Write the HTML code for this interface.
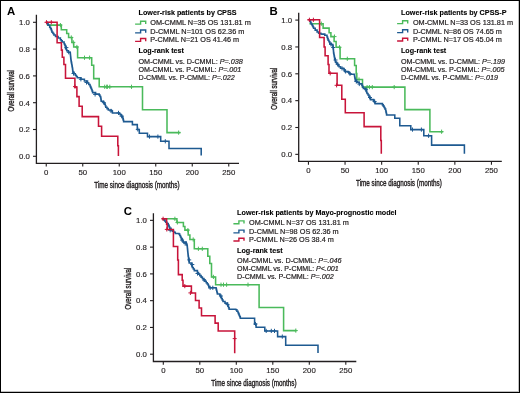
<!DOCTYPE html><html><head><meta charset="utf-8"><style>html,body{margin:0;padding:0;background:#fff;}svg{display:block;will-change:transform;} .tk{font-size:7.8px;fill:#231f20;stroke:#231f20;stroke-width:.15px} .tt{font-size:9px;fill:#231f20;stroke:#231f20;stroke-width:.4px} .lt{font-size:11.4px;font-weight:bold;fill:#000} .lb{font-size:7.2px;font-weight:bold;fill:#000;stroke:#000;stroke-width:.1px} .lr{font-size:7.2px;fill:#231f20;stroke:#231f20;stroke-width:.2px}</style></head><body>
<svg width="520" height="393" viewBox="0 0 520 393" font-family='"Liberation Sans", sans-serif'>
<rect x="0" y="0" width="520" height="393" fill="#fff"/>
<path d="M46.9,25.1 H61.3 V29.7 H66.7 V33.5 H68.6 V37.5 H71.9 V42.4 H73.7 V47 H77.6 V57.8 H91.7 V65.2 H93.7 V78.6 H99.2 V86.8 H142.5 V109.8 H167 V132.6 H180.4" fill="none" stroke="#4aba5b" stroke-width="1.55" stroke-linejoin="miter"/>
<path d="M60.4,23V27.2M58.4,25.1H62.4" stroke="#4aba5b" stroke-width="1"/>
<path d="M71.3,35.4V39.6M69.3,37.5H73.3" stroke="#4aba5b" stroke-width="1"/>
<path d="M73.3,40.3V44.5M71.3,42.4H75.3" stroke="#4aba5b" stroke-width="1"/>
<path d="M76.9,44.9V49.1M74.9,47H78.9" stroke="#4aba5b" stroke-width="1"/>
<path d="M84.5,55.6V59.8M82.5,57.7H86.5" stroke="#4aba5b" stroke-width="1"/>
<path d="M89.6,55.6V59.8M87.6,57.7H91.6" stroke="#4aba5b" stroke-width="1"/>
<path d="M104.7,84.7V88.9M102.7,86.8H106.7" stroke="#4aba5b" stroke-width="1"/>
<path d="M106.7,84.7V88.9M104.7,86.8H108.7" stroke="#4aba5b" stroke-width="1"/>
<path d="M107.4,84.7V88.9M105.4,86.8H109.4" stroke="#4aba5b" stroke-width="1"/>
<path d="M109.8,84.7V88.9M107.8,86.8H111.8" stroke="#4aba5b" stroke-width="1"/>
<path d="M131.5,84.7V88.9M129.5,86.8H133.5" stroke="#4aba5b" stroke-width="1"/>
<path d="M178.6,130.5V134.7M176.6,132.6H180.6" stroke="#4aba5b" stroke-width="1"/>
<path d="M46.3,22.3 H47.1 V22.7 H47.65 V24 H48.2 V25.3 H49.7 V27.3 H50.5 V28.6 H51.3 V29.9 H51.65 V31.05 H52 V32.2 H52.95 V33.55 H53.9 V34.9 H55.5 V36.4 H58.1 V37.9 H60.4 V39.8 H61.3 V40.85 H62.2 V41.9 H64.1 V43.8 H64.7 V44.95 H65.3 V46.1 H65.45 V47.25 H65.6 V48.4 H66.2 V49.55 H66.8 V50.7 H68.3 V52.2 H70.2 V53 H70.33 V54.27 H70.47 V55.53 H70.6 V56.8 H70.73 V58.07 H70.87 V59.33 H71 V60.6 H71.23 V61.87 H71.47 V63.13 H71.7 V64.4 H71.97 V65.93 H72.23 V67.47 H72.5 V69 H72.7 V70.6 H72.9 V72.2 H74.1 V73.75 H75.3 V75.3 H76.3 V76.55 H77.3 V77.8 H80.9 V79.3 H84.4 V80.9 H87.5 V82.9 H88.75 V84.4 H90 V85.9 H90.5 V87.1 H91 V88.3 H91.5 V89.5 H92.05 V91.05 H92.6 V92.6 H95.6 V94.1 H99.2 V95.1 H99.95 V96.4 H100.7 V97.7 H100.87 V98.87 H101.03 V100.03 H101.2 V101.2 H103.3 V102.2 H104.05 V103.25 H104.8 V104.3 H105.3 V105.8 H105.8 V107.3 H107.05 V108.6 H108.3 V109.9 H111.4 V110.9 H112.4 V112.9 H118 V112.9 H119.3 V113.95 H120.6 V115 H121.6 V116.25 H122.6 V117.5 H122.93 V118.87 H123.27 V120.23 H123.6 V121.6 H132.4 V124.6 H137.3 V129.4 H139.3 V133.3 H147.5 V136.6 H160.7 V141.3 H169 V148.5 H201.2 V155.6" fill="none" stroke="#1e5a91" stroke-width="1.55" stroke-linejoin="miter"/>
<path d="M66.4,45.5V49.7M64.4,47.6H68.4" stroke="#1e5a91" stroke-width="1"/>
<path d="M68.7,50.1V54.3M66.7,52.2H70.7" stroke="#1e5a91" stroke-width="1"/>
<path d="M73.5,71.4V75.6M71.5,73.5H75.5" stroke="#1e5a91" stroke-width="1"/>
<path d="M80.9,77.2V81.4M78.9,79.3H82.9" stroke="#1e5a91" stroke-width="1"/>
<path d="M86.5,80.4V84.6M84.5,82.5H88.5" stroke="#1e5a91" stroke-width="1"/>
<path d="M95.1,92.3V96.5M93.1,94.4H97.1" stroke="#1e5a91" stroke-width="1"/>
<path d="M103.8,100.6V104.8M101.8,102.7H105.8" stroke="#1e5a91" stroke-width="1"/>
<path d="M111,108.8V113M109,110.9H113" stroke="#1e5a91" stroke-width="1"/>
<path d="M118.5,110.8V115M116.5,112.9H120.5" stroke="#1e5a91" stroke-width="1"/>
<path d="M121.6,114.1V118.3M119.6,116.2H123.6" stroke="#1e5a91" stroke-width="1"/>
<path d="M137.8,127.3V131.5M135.8,129.4H139.8" stroke="#1e5a91" stroke-width="1"/>
<path d="M149.5,134.5V138.7M147.5,136.6H151.5" stroke="#1e5a91" stroke-width="1"/>
<path d="M157.9,134.5V138.7M155.9,136.6H159.9" stroke="#1e5a91" stroke-width="1"/>
<path d="M165.3,139.2V143.4M163.3,141.3H167.3" stroke="#1e5a91" stroke-width="1"/>
<path d="M45.6,22.3 H57.1 V42.8 H61.4 V50.1 H62.3 V57.2 H63.9 V64.4 H65.5 V78.3 H74.9 V87.1 H76.9 V96.6 H79.1 V106.3 H82.2 V116.6 H98.5 V126.3 H101.6 V136.3 H117.8 V145.7 H118.4 V156" fill="none" stroke="#c8143a" stroke-width="1.55" stroke-linejoin="miter"/>
<path d="M46.5,20.2V24.4M44.5,22.3H48.5" stroke="#c8143a" stroke-width="1"/>
<path d="M51.3,20.2V24.4M49.3,22.3H53.3" stroke="#c8143a" stroke-width="1"/>
<path d="M75,84.5V88.7M73,86.6H77" stroke="#c8143a" stroke-width="1"/>
<path d="M36.4,14.8V163.3H239" fill="none" stroke="#231f20" stroke-width="1.3"/>
<path d="M33,156.3H36.4" stroke="#231f20" stroke-width="1.1"/>
<text x="29.9" y="159.1" text-anchor="end" class="tk">0.0</text>
<path d="M33,129.5H36.4" stroke="#231f20" stroke-width="1.1"/>
<text x="29.9" y="132.3" text-anchor="end" class="tk">0.2</text>
<path d="M33,102.7H36.4" stroke="#231f20" stroke-width="1.1"/>
<text x="29.9" y="105.5" text-anchor="end" class="tk">0.4</text>
<path d="M33,75.9H36.4" stroke="#231f20" stroke-width="1.1"/>
<text x="29.9" y="78.7" text-anchor="end" class="tk">0.6</text>
<path d="M33,49.1H36.4" stroke="#231f20" stroke-width="1.1"/>
<text x="29.9" y="51.9" text-anchor="end" class="tk">0.8</text>
<path d="M33,22.3H36.4" stroke="#231f20" stroke-width="1.1"/>
<text x="29.9" y="25.1" text-anchor="end" class="tk">1.0</text>
<path d="M46.25,163.3V166.6" stroke="#231f20" stroke-width="1.1"/>
<text x="46.25" y="175.2" text-anchor="middle" class="tk">0</text>
<path d="M82.75,163.3V166.6" stroke="#231f20" stroke-width="1.1"/>
<text x="82.75" y="175.2" text-anchor="middle" class="tk">50</text>
<path d="M119.25,163.3V166.6" stroke="#231f20" stroke-width="1.1"/>
<text x="119.25" y="175.2" text-anchor="middle" class="tk">100</text>
<path d="M155.75,163.3V166.6" stroke="#231f20" stroke-width="1.1"/>
<text x="155.75" y="175.2" text-anchor="middle" class="tk">150</text>
<path d="M192.25,163.3V166.6" stroke="#231f20" stroke-width="1.1"/>
<text x="192.25" y="175.2" text-anchor="middle" class="tk">200</text>
<path d="M228.75,163.3V166.6" stroke="#231f20" stroke-width="1.1"/>
<text x="228.75" y="175.2" text-anchor="middle" class="tk">250</text>
<text x="94.3" y="187.7" class="tt" textLength="85.3" lengthAdjust="spacingAndGlyphs">Time since diagnosis (months)</text>
<text transform="translate(14.2,90.75) rotate(-90)" x="0" y="0" text-anchor="middle" class="tt" textLength="41.3" lengthAdjust="spacingAndGlyphs">Overall survival</text>
<text x="6.9" y="14.8" class="lt">A</text>
<text x="138.5" y="15" class="lb" textLength="98" lengthAdjust="spacingAndGlyphs">Lower-risk patients by CPSS</text>
<path d="M135.1,24.1H140.6V21.3H145.7V23.9" fill="none" stroke="#4aba5b" stroke-width="1.4"/>
<text x="150.25" y="25" class="lr" textLength="100.6" lengthAdjust="spacingAndGlyphs">OM-CMML N=35 OS 131.81 m</text>
<path d="M135.1,32.85H140.6V30.05H145.7V32.65" fill="none" stroke="#1e5a91" stroke-width="1.4"/>
<text x="150.25" y="33.75" class="lr" textLength="94.15" lengthAdjust="spacingAndGlyphs">D-CMML N=101 OS 62.36 m</text>
<path d="M135.1,41.35H140.6V38.55H145.7V41.15" fill="none" stroke="#c8143a" stroke-width="1.4"/>
<text x="150.25" y="42.25" class="lr" textLength="88.85" lengthAdjust="spacingAndGlyphs">P-CMML N=21 OS 41.46 m</text>
<text x="138.5" y="52.9" class="lb" textLength="45.5" lengthAdjust="spacingAndGlyphs">Log-rank test</text>
<text x="138.5" y="63.75" class="lr" textLength="104.25" lengthAdjust="spacingAndGlyphs">OM-CMML vs. D-CMML: <tspan font-style="italic">P=.038</tspan></text>
<text x="138.5" y="71.6" class="lr" textLength="102.75" lengthAdjust="spacingAndGlyphs">OM-CMML vs. P-CMML: <tspan font-style="italic">P=.001</tspan></text>
<text x="138.5" y="79.75" class="lr" textLength="96.25" lengthAdjust="spacingAndGlyphs">D-CMML vs. P-CMML: <tspan font-style="italic">P=.022</tspan></text>
<path d="M309.4,23.7 H323.1 V28.1 H329.1 V32.7 H330.9 V36.6 H334.1 V41.4 H336.1 V47.3 H340.1 V58.8 H354.6 V65.5 H356.2 V73.6 H356.8 V79.5 H362.5 V87.1 H404.9 V109.6 H429.9 V131.7 H443.1" fill="none" stroke="#4aba5b" stroke-width="1.55" stroke-linejoin="miter"/>
<path d="M321.3,21.6V25.8M319.3,23.7H323.3" stroke="#4aba5b" stroke-width="1"/>
<path d="M334.5,34.5V38.7M332.5,36.6H336.5" stroke="#4aba5b" stroke-width="1"/>
<path d="M339.5,45.2V49.4M337.5,47.3H341.5" stroke="#4aba5b" stroke-width="1"/>
<path d="M347.3,56.7V60.9M345.3,58.8H349.3" stroke="#4aba5b" stroke-width="1"/>
<path d="M359,77.4V81.6M357,79.5H361" stroke="#4aba5b" stroke-width="1"/>
<path d="M367.1,85V89.2M365.1,87.1H369.1" stroke="#4aba5b" stroke-width="1"/>
<path d="M369.4,85V89.2M367.4,87.1H371.4" stroke="#4aba5b" stroke-width="1"/>
<path d="M372.3,85V89.2M370.3,87.1H374.3" stroke="#4aba5b" stroke-width="1"/>
<path d="M394.2,85V89.2M392.2,87.1H396.2" stroke="#4aba5b" stroke-width="1"/>
<path d="M441.6,129.6V133.8M439.6,131.7H443.6" stroke="#4aba5b" stroke-width="1"/>
<path d="M309,20.1 H309.8 V21 H310.4 V22.3 H311 V23.6 H311.75 V24.75 H312.5 V25.9 H313.05 V27.05 H313.6 V28.2 H315.2 V30.1 H317.1 V32 H318.6 V33.2 H320.9 V33.9 H322 V34.1 H324.8 V35.2 H327 V37 H327.55 V38.6 H328.1 V40.2 H328.95 V41.8 H329.8 V43.4 H331.3 V44.6 H332.9 V46.1 H333.1 V47.65 H333.3 V49.2 H333.4 V50.47 H333.5 V51.73 H333.6 V53 H333.87 V54.53 H334.13 V56.07 H334.4 V57.6 H334.77 V59.1 H335.13 V60.6 H335.5 V62.1 H336.5 V63.25 H337.5 V64.4 H338.25 V65.55 H339 V66.7 H340.5 V68.3 H343.1 V68.6 H344.1 V70.1 H345.1 V71.6 H348.1 V72.1 H349.15 V73.15 H350.2 V74.2 H354.2 V74.2 H354.42 V75.42 H354.64 V76.64 H354.86 V77.86 H355.08 V79.08 H355.3 V80.3 H356.8 V82.3 H359.3 V83.8 H361.9 V85.4 H362.65 V86.9 H363.4 V88.4 H365.9 V89.9 H366.27 V91.1 H366.63 V92.3 H367 V93.5 H368 V95.05 H369 V96.6 H369.75 V98.1 H370.5 V99.6 H373.6 V100.6 H374.35 V102.1 H375.1 V103.6 H381.6 H382.43 V104.87 H383.27 V106.13 H384.1 V107.4 H384.9 V109.05 H385.7 V110.7 H386 V112.1 H386.3 V113.5 H386.6 V114.9 H394.8 V118.2 H399.8 V125.8 H410.8 V129.6 H423.8 V135.8 H431.6 V145.1 H464.4 V153.8" fill="none" stroke="#1e5a91" stroke-width="1.55" stroke-linejoin="miter"/>
<path d="M331,42.3V46.5M329,44.4H333" stroke="#1e5a91" stroke-width="1"/>
<path d="M333.2,45.4V49.6M331.2,47.5H335.2" stroke="#1e5a91" stroke-width="1"/>
<path d="M335.5,57.9V62.1M333.5,60H337.5" stroke="#1e5a91" stroke-width="1"/>
<path d="M337.7,62.3V66.5M335.7,64.4H339.7" stroke="#1e5a91" stroke-width="1"/>
<path d="M342,66.3V70.5M340,68.4H344" stroke="#1e5a91" stroke-width="1"/>
<path d="M345.6,69.3V73.5M343.6,71.4H347.6" stroke="#1e5a91" stroke-width="1"/>
<path d="M350,71.7V75.9M348,73.8H352" stroke="#1e5a91" stroke-width="1"/>
<path d="M356.3,79.4V83.6M354.3,81.5H358.3" stroke="#1e5a91" stroke-width="1"/>
<path d="M359.3,81.9V86.1M357.3,84H361.3" stroke="#1e5a91" stroke-width="1"/>
<path d="M366,87.6V91.8M364,89.7H368" stroke="#1e5a91" stroke-width="1"/>
<path d="M370,95.4V99.6M368,97.5H372" stroke="#1e5a91" stroke-width="1"/>
<path d="M374.6,99.4V103.6M372.6,101.5H376.6" stroke="#1e5a91" stroke-width="1"/>
<path d="M412.5,127.5V131.7M410.5,129.6H414.5" stroke="#1e5a91" stroke-width="1"/>
<path d="M421.4,127.5V131.7M419.4,129.6H423.4" stroke="#1e5a91" stroke-width="1"/>
<path d="M428.6,133.7V137.9M426.6,135.8H430.6" stroke="#1e5a91" stroke-width="1"/>
<path d="M307.6,19.8 H319.6 V37.4 H324.1 V46.9 H325.1 V55.8 H328.1 V64.4 H329 V73.3 H337.1 V85.3 H341.8 V99.3 H345.3 V112.7 H364.1 V126.6 H380.8 V140.5 H381.3 V153.8" fill="none" stroke="#c8143a" stroke-width="1.55" stroke-linejoin="miter"/>
<path d="M309.4,17.7V21.9M307.4,19.8H311.4" stroke="#c8143a" stroke-width="1"/>
<path d="M313.4,17.7V21.9M311.4,19.8H315.4" stroke="#c8143a" stroke-width="1"/>
<path d="M330.2,71.2V75.4M328.2,73.3H332.2" stroke="#c8143a" stroke-width="1"/>
<path d="M336.6,83.2V87.4M334.6,85.3H338.6" stroke="#c8143a" stroke-width="1"/>
<path d="M298.7,12.7V161.4H501.8" fill="none" stroke="#231f20" stroke-width="1.3"/>
<path d="M295.3,154.35H298.7" stroke="#231f20" stroke-width="1.1"/>
<text x="292.2" y="157.15" text-anchor="end" class="tk">0.0</text>
<path d="M295.3,127.5H298.7" stroke="#231f20" stroke-width="1.1"/>
<text x="292.2" y="130.3" text-anchor="end" class="tk">0.2</text>
<path d="M295.3,100.65H298.7" stroke="#231f20" stroke-width="1.1"/>
<text x="292.2" y="103.45" text-anchor="end" class="tk">0.4</text>
<path d="M295.3,73.8H298.7" stroke="#231f20" stroke-width="1.1"/>
<text x="292.2" y="76.6" text-anchor="end" class="tk">0.6</text>
<path d="M295.3,46.95H298.7" stroke="#231f20" stroke-width="1.1"/>
<text x="292.2" y="49.75" text-anchor="end" class="tk">0.8</text>
<path d="M295.3,20.1H298.7" stroke="#231f20" stroke-width="1.1"/>
<text x="292.2" y="22.9" text-anchor="end" class="tk">1.0</text>
<path d="M308.45,161.4V164.7" stroke="#231f20" stroke-width="1.1"/>
<text x="308.45" y="173.3" text-anchor="middle" class="tk">0</text>
<path d="M345.05,161.4V164.7" stroke="#231f20" stroke-width="1.1"/>
<text x="345.05" y="173.3" text-anchor="middle" class="tk">50</text>
<path d="M381.65,161.4V164.7" stroke="#231f20" stroke-width="1.1"/>
<text x="381.65" y="173.3" text-anchor="middle" class="tk">100</text>
<path d="M418.25,161.4V164.7" stroke="#231f20" stroke-width="1.1"/>
<text x="418.25" y="173.3" text-anchor="middle" class="tk">150</text>
<path d="M454.85,161.4V164.7" stroke="#231f20" stroke-width="1.1"/>
<text x="454.85" y="173.3" text-anchor="middle" class="tk">200</text>
<path d="M491.45,161.4V164.7" stroke="#231f20" stroke-width="1.1"/>
<text x="491.45" y="173.3" text-anchor="middle" class="tk">250</text>
<text x="356" y="185.8" class="tt" textLength="85.8" lengthAdjust="spacingAndGlyphs">Time since diagnosis (months)</text>
<text transform="translate(276.8,88.65) rotate(-90)" x="0" y="0" text-anchor="middle" class="tt" textLength="42" lengthAdjust="spacingAndGlyphs">Overall survival</text>
<text x="269.4" y="15" class="lt">B</text>
<text x="401" y="14.9" class="lb" textLength="105.5" lengthAdjust="spacingAndGlyphs">Lower-risk patients by CPSS-P</text>
<path d="M397.1,23.6H402.6V20.8H407.7V23.4" fill="none" stroke="#4aba5b" stroke-width="1.4"/>
<text x="412.9" y="24.5" class="lr" textLength="100.2" lengthAdjust="spacingAndGlyphs">OM-CMML N=33 OS 131.81 m</text>
<path d="M397.1,32.6H402.6V29.8H407.7V32.4" fill="none" stroke="#1e5a91" stroke-width="1.4"/>
<text x="412.9" y="33.5" class="lr" textLength="89" lengthAdjust="spacingAndGlyphs">D-CMML N=86 OS 74.65 m</text>
<path d="M397.1,41H402.6V38.2H407.7V40.8" fill="none" stroke="#c8143a" stroke-width="1.4"/>
<text x="412.9" y="41.9" class="lr" textLength="89" lengthAdjust="spacingAndGlyphs">P-CMML N=17 OS 45.04 m</text>
<text x="401" y="52.9" class="lb" textLength="45.25" lengthAdjust="spacingAndGlyphs">Log-rank test</text>
<text x="401" y="63.75" class="lr" textLength="104.1" lengthAdjust="spacingAndGlyphs">OM-CMML vs. D-CMML: <tspan font-style="italic">P=.199</tspan></text>
<text x="401" y="71.6" class="lr" textLength="103.4" lengthAdjust="spacingAndGlyphs">OM-CMML vs. P-CMML: <tspan font-style="italic">P=.005</tspan></text>
<text x="401" y="79.75" class="lr" textLength="96.9" lengthAdjust="spacingAndGlyphs">D-CMML vs. P-CMML: <tspan font-style="italic">P=.019</tspan></text>
<path d="M163.3,220.35 V218.8 H176.9 V222.4 H183.4 V226.5 H184.9 V230.1 H188.2 V235 H189.9 V239.5 H194.3 V248.8 H207.8 V256.3 H209.8 V263.4 H211.5 V276.9 H215.6 V284.7 H259.1 V307.4 H283.6 V330.6 H296.4" fill="none" stroke="#4aba5b" stroke-width="1.55" stroke-linejoin="miter"/>
<path d="M174.9,216.7V220.9M172.9,218.8H176.9" stroke="#4aba5b" stroke-width="1"/>
<path d="M177.4,220.3V224.5M175.4,222.4H179.4" stroke="#4aba5b" stroke-width="1"/>
<path d="M187.9,228V232.2M185.9,230.1H189.9" stroke="#4aba5b" stroke-width="1"/>
<path d="M193.2,237.4V241.6M191.2,239.5H195.2" stroke="#4aba5b" stroke-width="1"/>
<path d="M198.4,246.7V250.9M196.4,248.8H200.4" stroke="#4aba5b" stroke-width="1"/>
<path d="M202.3,246.7V250.9M200.3,248.8H204.3" stroke="#4aba5b" stroke-width="1"/>
<path d="M213.4,274.8V279M211.4,276.9H215.4" stroke="#4aba5b" stroke-width="1"/>
<path d="M221,282.6V286.8M219,284.7H223" stroke="#4aba5b" stroke-width="1"/>
<path d="M223.5,282.6V286.8M221.5,284.7H225.5" stroke="#4aba5b" stroke-width="1"/>
<path d="M226.6,282.6V286.8M224.6,284.7H228.6" stroke="#4aba5b" stroke-width="1"/>
<path d="M248,282.6V286.8M246,284.7H250" stroke="#4aba5b" stroke-width="1"/>
<path d="M295.8,328.5V332.7M293.8,330.6H297.8" stroke="#4aba5b" stroke-width="1"/>
<path d="M162.6,218.8 H163.7 V219.6 H164.7 V220.9 H165.7 V222.2 H166.95 V223.45 H168.2 V224.7 H168.73 V225.9 H169.27 V227.1 H169.8 V228.3 H171.05 V229.75 H172.3 V231.2 H173.8 V232.3 H175.3 V233.4 H178.9 V234 H179.7 V235.5 H180.5 V237 H181.05 V238.05 H181.6 V239.1 H182.35 V240.6 H183.1 V242.1 H186.2 V243.6 H186.7 V244.9 H187.2 V246.2 H187.32 V247.47 H187.45 V248.75 H187.57 V250.03 H187.7 V251.3 H187.82 V252.55 H187.95 V253.8 H188.07 V255.05 H188.2 V256.3 H188.45 V257.85 H188.7 V259.4 H188.87 V260.6 H189.03 V261.8 H189.2 V263 H191.3 V264.5 H191.8 V266 H192.3 V267.5 H193.3 V269.05 H194.3 V270.6 H197.4 V272.6 H198.5 V274.1 H199.8 V275.6 H201.1 V277.1 H202.35 V278.4 H203.6 V279.7 H204.9 V281.2 H206.2 V282.7 H207.2 V284 H208.2 V285.3 H208.7 V286.55 H209.2 V287.8 H215.8 V287.8 H216.12 V289.02 H216.44 V290.24 H216.76 V291.46 H217.08 V292.68 H217.4 V293.9 H219.9 V295.4 H220.65 V296.95 H221.4 V298.5 H222.2 V300 H223 V301.5 H225 V303.1 H227.5 V304.6 H228.03 V306.17 H228.57 V307.73 H229.1 V309.3 H235.8 V309.7 H236.9 V311.2 H238 V312.7 H238.57 V314.07 H239.15 V315.45 H239.73 V316.82 H240.3 V318.2 H254.6 V324.1 H256.1 V327.2 H264.8 V330.9 H277.6 V336.6 H285.7 V345.3 H318 V353.1" fill="none" stroke="#1e5a91" stroke-width="1.55" stroke-linejoin="miter"/>
<path d="M170.2,228.2V232.4M168.2,230.3H172.2" stroke="#1e5a91" stroke-width="1"/>
<path d="M182.1,238V242.2M180.1,240.1H184.1" stroke="#1e5a91" stroke-width="1"/>
<path d="M185.2,241.5V245.7M183.2,243.6H187.2" stroke="#1e5a91" stroke-width="1"/>
<path d="M189.2,257.8V262M187.2,259.9H191.2" stroke="#1e5a91" stroke-width="1"/>
<path d="M192.3,262.4V266.6M190.3,264.5H194.3" stroke="#1e5a91" stroke-width="1"/>
<path d="M197.5,271.4V275.6M195.5,273.5H199.5" stroke="#1e5a91" stroke-width="1"/>
<path d="M204.1,277.9V282.1M202.1,280H206.1" stroke="#1e5a91" stroke-width="1"/>
<path d="M210.2,285.7V289.9M208.2,287.8H212.2" stroke="#1e5a91" stroke-width="1"/>
<path d="M212.8,285.7V289.9M210.8,287.8H214.8" stroke="#1e5a91" stroke-width="1"/>
<path d="M220.9,293.9V298.1M218.9,296H222.9" stroke="#1e5a91" stroke-width="1"/>
<path d="M227.5,302.5V306.7M225.5,304.6H229.5" stroke="#1e5a91" stroke-width="1"/>
<path d="M255.5,321.9V326.1M253.5,324H257.5" stroke="#1e5a91" stroke-width="1"/>
<path d="M266.2,328.8V333M264.2,330.9H268.2" stroke="#1e5a91" stroke-width="1"/>
<path d="M271.3,328.8V333M269.3,330.9H273.3" stroke="#1e5a91" stroke-width="1"/>
<path d="M274.5,328.8V333M272.5,330.9H276.5" stroke="#1e5a91" stroke-width="1"/>
<path d="M282.3,334.5V338.7M280.3,336.6H284.3" stroke="#1e5a91" stroke-width="1"/>
<path d="M161.9,218.8 H166.6 V224.2 H167.2 V229.4 H173.4 V246.4 H177.7 V260 H178.4 V274.6 H182.2 V280.2 H183 V286.1 H191.4 V292.9 H195.5 V300.4 H199.1 V308 H201.5 V315.7 H215.1 V323.1 H218.2 V331 H234.7 V353.3" fill="none" stroke="#c8143a" stroke-width="1.55" stroke-linejoin="miter"/>
<path d="M163.1,216.7V220.9M161.1,218.8H165.1" stroke="#c8143a" stroke-width="1"/>
<path d="M166.8,227.3V231.5M164.8,229.4H168.8" stroke="#c8143a" stroke-width="1"/>
<path d="M184.8,284V288.2M182.8,286.1H186.8" stroke="#c8143a" stroke-width="1"/>
<path d="M190.4,290.8V295M188.4,292.9H192.4" stroke="#c8143a" stroke-width="1"/>
<path d="M234.7,336.5V340.7M232.7,338.6H236.7" stroke="#c8143a" stroke-width="1"/>
<path d="M153.4,213.2V361.5H356.3" fill="none" stroke="#231f20" stroke-width="1.3"/>
<path d="M150,354.2H153.4" stroke="#231f20" stroke-width="1.1"/>
<text x="146.9" y="357" text-anchor="end" class="tk">0.0</text>
<path d="M150,327.43H153.4" stroke="#231f20" stroke-width="1.1"/>
<text x="146.9" y="330.23" text-anchor="end" class="tk">0.2</text>
<path d="M150,300.66H153.4" stroke="#231f20" stroke-width="1.1"/>
<text x="146.9" y="303.46" text-anchor="end" class="tk">0.4</text>
<path d="M150,273.89H153.4" stroke="#231f20" stroke-width="1.1"/>
<text x="146.9" y="276.69" text-anchor="end" class="tk">0.6</text>
<path d="M150,247.12H153.4" stroke="#231f20" stroke-width="1.1"/>
<text x="146.9" y="249.92" text-anchor="end" class="tk">0.8</text>
<path d="M150,220.35H153.4" stroke="#231f20" stroke-width="1.1"/>
<text x="146.9" y="223.15" text-anchor="end" class="tk">1.0</text>
<path d="M163.3,361.5V364.8" stroke="#231f20" stroke-width="1.1"/>
<text x="163.3" y="373.4" text-anchor="middle" class="tk">0</text>
<path d="M199.8,361.5V364.8" stroke="#231f20" stroke-width="1.1"/>
<text x="199.8" y="373.4" text-anchor="middle" class="tk">50</text>
<path d="M236.3,361.5V364.8" stroke="#231f20" stroke-width="1.1"/>
<text x="236.3" y="373.4" text-anchor="middle" class="tk">100</text>
<path d="M272.8,361.5V364.8" stroke="#231f20" stroke-width="1.1"/>
<text x="272.8" y="373.4" text-anchor="middle" class="tk">150</text>
<path d="M309.3,361.5V364.8" stroke="#231f20" stroke-width="1.1"/>
<text x="309.3" y="373.4" text-anchor="middle" class="tk">200</text>
<path d="M345.8,361.5V364.8" stroke="#231f20" stroke-width="1.1"/>
<text x="345.8" y="373.4" text-anchor="middle" class="tk">250</text>
<text x="211.3" y="385.9" class="tt" textLength="85.3" lengthAdjust="spacingAndGlyphs">Time since diagnosis (months)</text>
<text transform="translate(131.4,288.6) rotate(-90)" x="0" y="0" text-anchor="middle" class="tt" textLength="42" lengthAdjust="spacingAndGlyphs">Overall survival</text>
<text x="123.8" y="215" class="lt">C</text>
<text x="237.1" y="215.4" class="lb" textLength="159.5" lengthAdjust="spacingAndGlyphs">Lower-risk patients by Mayo-prognostic model</text>
<path d="M233.4,223.7H238.9V220.9H244V223.5" fill="none" stroke="#4aba5b" stroke-width="1.4"/>
<text x="249" y="224.6" class="lr" textLength="99.8" lengthAdjust="spacingAndGlyphs">OM-CMML N=37 OS 131.81 m</text>
<path d="M233.4,232.9H238.9V230.1H244V232.7" fill="none" stroke="#1e5a91" stroke-width="1.4"/>
<text x="249" y="233.8" class="lr" textLength="89.7" lengthAdjust="spacingAndGlyphs">D-CMML N=98 OS 62.36 m</text>
<path d="M233.4,241H238.9V238.2H244V240.8" fill="none" stroke="#c8143a" stroke-width="1.4"/>
<text x="249" y="241.9" class="lr" textLength="84.8" lengthAdjust="spacingAndGlyphs">P-CMML N=26 OS 38.4 m</text>
<text x="237.1" y="252.5" class="lb" textLength="45.5" lengthAdjust="spacingAndGlyphs">Log-rank test</text>
<text x="237.1" y="263.1" class="lr" textLength="104.4" lengthAdjust="spacingAndGlyphs">OM-CMML vs. D-CMML: <tspan font-style="italic">P=.046</tspan></text>
<text x="237.1" y="271" class="lr" textLength="101.6" lengthAdjust="spacingAndGlyphs">OM-CMML vs. P-CMML: <tspan font-style="italic">P<.001</tspan></text>
<text x="237.1" y="279.1" class="lr" textLength="96.6" lengthAdjust="spacingAndGlyphs">D-CMML vs. P-CMML: <tspan font-style="italic">P=.002</tspan></text>
<path d="M0,0H520V1H0Z M0,0H1V393H0Z M519,0H520V393H519Z M0,392H520V393H0Z" fill="#000"/>
<path d="M518,1H519V392H518Z M1,391H518V392H1Z" fill="#000" fill-opacity="0.25"/>
</svg></body></html>
